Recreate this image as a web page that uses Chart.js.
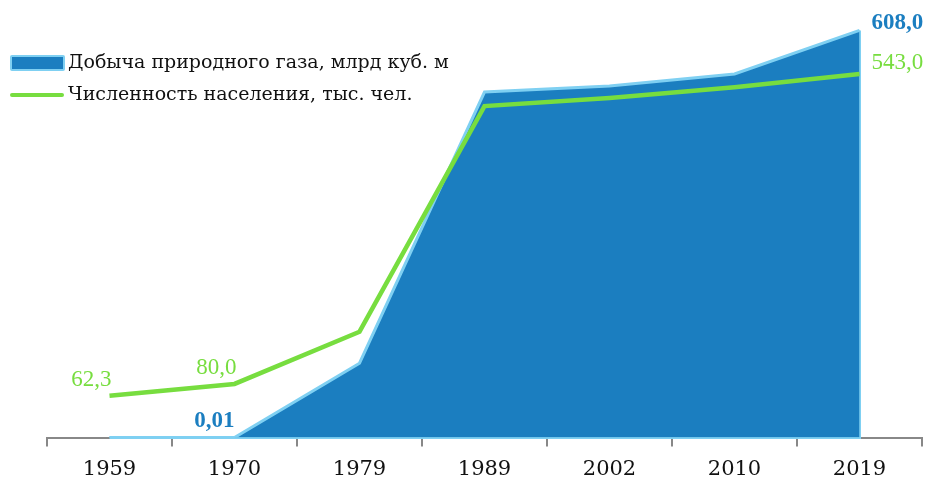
<!DOCTYPE html>
<html>
<head>
<meta charset="utf-8">
<script src="https://cdn.jsdelivr.net/npm/chart.js@4"></script>
<style>
  body { margin: 0; background: #fff; }
  #wrap { position: relative; width: 928px; height: 480px; }
  .legend { position: absolute; left: 10px; font-family: "DejaVu Serif", serif; font-size: 19px; color: #111; }
  .legend span.box { display: inline-block; vertical-align: middle; }
  #lg1 { top: 50px; }
  #lg2 { top: 82px; }
  #lg1 .box { width: 51px; height: 12px; background: #1b7ec0; border: 2px solid #7fd0f2; border-radius: 2px; margin-right: 3px; }
  #lg2 .box { width: 54px; height: 4px; background: #77dd3f; border-radius: 2px; margin-right: 4px; }
</style>
</head>
<body>
<div id="wrap">
  <canvas id="myChart"></canvas>
  <div class="legend" id="lg1"><span class="box"></span>Добыча природного газа, млрд куб. м</div>
  <div class="legend" id="lg2"><span class="box"></span>Численность населения, тыс. чел.</div>
</div>
<script>
// years on the x axis
var years = ['1959', '1970', '1979', '1989', '2002', '2010', '2019'];
// natural gas production, bcm
var gasValues = [0, 0.01, 111, 516, 525, 543, 608];
// population, thousand people
var popValues = [62.3, 80.0, 158, 495, 507, 523, 543.0];
// value labels shown on the chart: index -> text
var gasLabels = { 1: '0,01', 6: '608,0' };
var popLabels = { 0: '62,3', 1: '80,0', 6: '543,0' };

var blue = '#1b7ec0';
var lightBlue = '#7fd0f2';
var green = '#77dd3f';

var valueLabels = {
    id: 'valueLabels',
    afterDatasetsDraw: function (chart) {
        var ctx = chart.ctx;
        var gasMeta = chart.getDatasetMeta(0);
        var popMeta = chart.getDatasetMeta(1);
        ctx.save();
        ctx.textBaseline = 'middle';
        ctx.font = 'bold 23px "Liberation Serif"';
        ctx.fillStyle = blue;
        Object.keys(gasLabels).forEach(function (k) {
            var p = gasMeta.data[k];
            if (k == gasValues.length - 1) {
                ctx.textAlign = 'left';
                ctx.fillText(gasLabels[k], p.x + 12, p.y - 7);
            } else {
                ctx.textAlign = 'right';
                ctx.fillText(gasLabels[k], p.x, p.y - 16);
            }
        });
        ctx.font = '23px "Liberation Serif"';
        ctx.fillStyle = green;
        Object.keys(popLabels).forEach(function (k) {
            var p = popMeta.data[k];
            if (k == popValues.length - 1) {
                ctx.textAlign = 'left';
                ctx.fillText(popLabels[k], p.x + 12, p.y - 11);
            } else {
                ctx.textAlign = 'right';
                ctx.fillText(popLabels[k], p.x + 2, p.y - 16);
            }
        });
        ctx.restore();
    },
    beforeDatasetsDraw: function (chart) {
        // light edge on the base and right side of the area
        var ctx = chart.ctx;
        var meta = chart.getDatasetMeta(0);
        var y0 = chart.scales.y.getPixelForValue(0);
        var first = meta.data[0];
        var last = meta.data[meta.data.length - 1];
        ctx.save();
        ctx.strokeStyle = lightBlue;
        ctx.lineWidth = 3;
        ctx.beginPath();
        ctx.moveTo(first.x, y0);
        ctx.lineTo(last.x, y0);
        ctx.lineTo(last.x, last.y);
        ctx.stroke();
        ctx.restore();
    }
};

var ctx = document.getElementById('myChart');
var myChart = new Chart(ctx, {
    type: 'line',
    data: {
        labels: years,
        datasets: [
            {
                label: 'Добыча природного газа, млрд куб. м',
                data: gasValues,
                backgroundColor: blue,
                borderColor: lightBlue,
                borderWidth: 3,
                fill: 'origin',
                tension: 0,
                pointRadius: 0,
                order: 2
            },
            {
                label: 'Численность населения, тыс. чел.',
                data: popValues,
                borderColor: green,
                borderWidth: 4.5,
                fill: false,
                tension: 0,
                pointRadius: 0,
                order: 1
            }
        ]
    },
    options: {
        responsive: true,
        maintainAspectRatio: false,
        animation: false,
        layout: { padding: { left: 47, right: 6, top: 9, bottom: 0 } },
        plugins: {
            legend: { display: false },
            tooltip: { enabled: false }
        },
        scales: {
            x: {
                offset: true,
                grid: { offset: true, drawOnChartArea: false, color: '#888', tickLength: 9, lineWidth: 2 },
                border: { color: '#888', width: 2 },
                ticks: { color: '#111', font: { family: 'DejaVu Serif', size: 21 }, padding: 10 },
                afterFit: function (scale) {
                    scale.height = 42.5;
                }
            },
            y: {
                display: false,
                min: 0,
                max: 640
            }
        }
    },
    plugins: [valueLabels]
});
</script>
</body>
</html>
